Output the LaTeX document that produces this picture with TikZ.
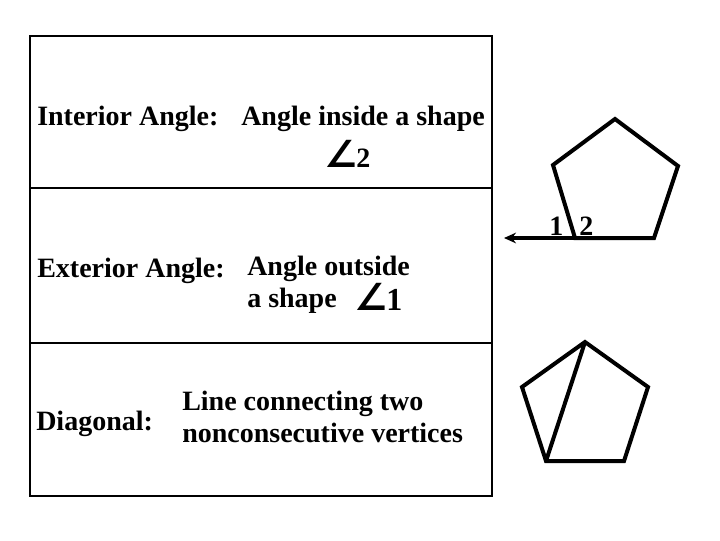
\documentclass[tikz,border=0pt]{standalone}
\usepackage{fontspec}
\setmainfont{Liberation Serif}
\newfontfamily\symfont{DejaVu Sans}
\usetikzlibrary{arrows.meta}
\begin{document}
\begin{tikzpicture}[x=0.75pt,y=-0.75pt,
  txt/.style={anchor=base west,inner sep=0pt,font=\fontsize{21}{24}\selectfont\bfseries},
  box/.style={line width=1.5pt},
  poly/.style={line width=3pt,line join=miter},
  angsym/.style={anchor=base west,inner sep=0pt,font=\fontsize{21}{24}\selectfont\bfseries}]
\useasboundingbox (0,0) rectangle (720,540);
% frame
\draw[box] (30,36) rectangle (492,496);
\coordinate (l1) at (30,188); \coordinate (r1) at (492,188);
\coordinate (l2) at (30,343); \coordinate (r2) at (492,343);
\draw[box] (l1) -- (r1);
\draw[box] (l2) -- (r2);
% texts
\node[txt] (int) at (37,125) {Interior Angle:};
\node[txt] (intd) at (241,125) {Angle inside a shape};
\node[angsym] (a2) at (324,167) {{\symfont\bfseries\fontsize{28}{30}\selectfont ∠}\kern-1pt 2};
\node[txt] (ext) at (37,277) {Exterior Angle:};
\node[txt] (extd1) at (247,275) {Angle outside};
\node[txt] (extd2) at (247,307) {a shape};
\node[angsym,font=\fontsize{24}{26}\selectfont\bfseries] (a1) at (354,310) {{\symfont\bfseries\fontsize{28}{30}\selectfont ∠}\kern-1pt 1};
\node[txt] (diag) at (36,430) {Diagonal:};
\node[txt] (dd1) at (182,410) {Line connecting two};
\node[txt] (dd2) at (182,442) {nonconsecutive vertices};
% pentagon 1
\coordinate (pt) at (615,119);
\coordinate (pl) at (553,165);
\coordinate (pr) at (678,166);
\coordinate (pbl) at (575,238);
\coordinate (pbr) at (654,238);
\coordinate (arr) at (504,238);
\draw[poly] (pbl) -- (pl) -- (pt) -- (pr) -- (pbr) -- cycle;
\draw[poly,-{Stealth[length=9pt,width=8pt]}] (pbl) -- (arr);
\node[txt] (n1) at (549,235) {1};
\node[txt] (n2) at (579,235) {2};
% pentagon 2
\coordinate (qt) at (585,342);
\coordinate (ql) at (522,387);
\coordinate (qr) at (648,387);
\coordinate (qbl) at (546,461);
\coordinate (qbr) at (624,461);
\draw[poly] (qbl) -- (ql) -- (qt) -- (qr) -- (qbr) -- cycle;
\draw[poly] (qt) -- (qbl);
\end{tikzpicture}
\end{document}
